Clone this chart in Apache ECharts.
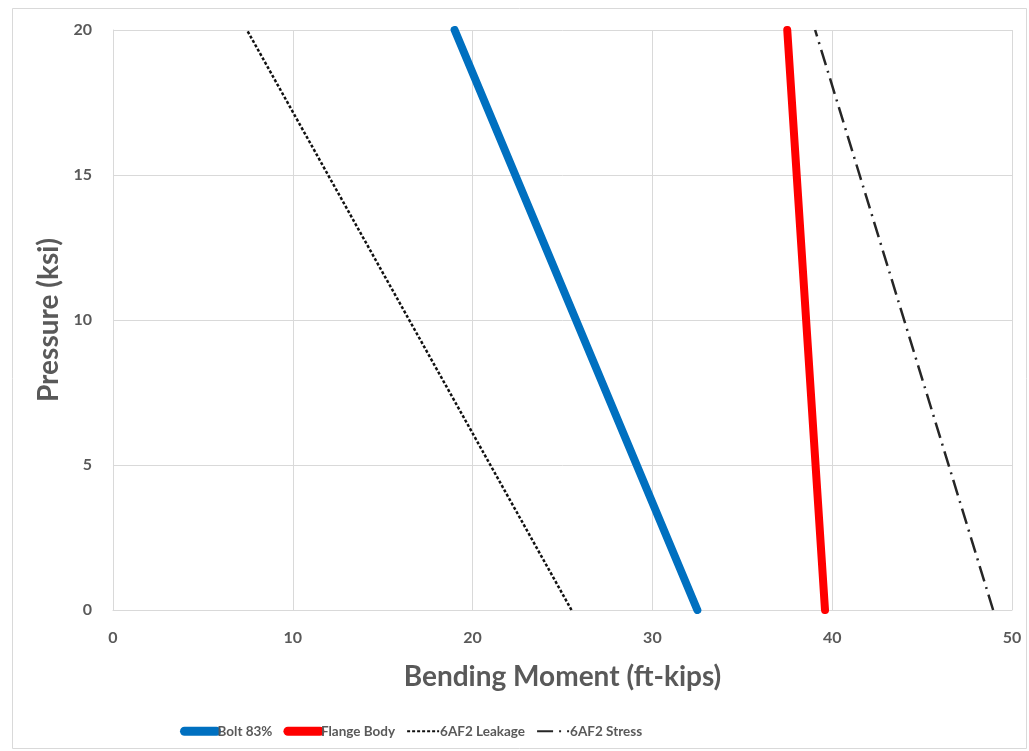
<!DOCTYPE html>
<html>
<head>
<meta charset="utf-8">
<script src="https://cdn.jsdelivr.net/npm/echarts@6/dist/echarts.min.js"></script>
<style>
  html, body { margin: 0; padding: 0; background: #ffffff; }
  #chart { width: 1029px; height: 751px; }
</style>
</head>
<body>
<div id="chart"></div>
<script>
// Pressure levels (ksi) at which each limit line is evaluated
const pressures = [0, 20];

// Bending moment limits (ft-kips) at each pressure level
const bolt83 = [32.5, 19.0];
const flangeBody = [39.6, 37.5];
const leakage6AF2 = [25.5, 7.45];
const stress6AF2 = [48.95, 39.05];

const seriesNames = ['Bolt 83%', 'Flange Body', '6AF2 Leakage', '6AF2 Stress'];

const xTicks = { min: 0, max: 50, step: 10 };
const yTicks = { min: 0, max: 20, step: 5 };

const pairs = (xs) => xs.map((x, i) => [x, pressures[i]]);

const FONT = 'Lato, "Open Sans", sans-serif';
const TEXT = '#595959';
const GRID = '#d9d9d9';

const chart = echarts.init(document.getElementById('chart'), null, { renderer: 'canvas' });

chart.setOption({
  backgroundColor: '#ffffff',
  animation: false,
  textStyle: { fontFamily: FONT },
  graphic: [{
    type: 'rect',
    shape: { x: 12.5, y: 8.5, width: 1014, height: 740 },
    style: { fill: 'none', stroke: GRID, lineWidth: 1 },
    silent: true,
    z: -1
  }],
  grid: { left: 113, top: 30, right: 17, bottom: 141 },
  legend: {
    left: 175,
    top: 719,
    itemWidth: 32,
    itemHeight: 18,
    itemGap: 11,
    // line-only legend keys: hide the marker dot
    itemStyle: { color: 'rgba(0,0,0,0)', borderWidth: 0, opacity: 0 },
    textStyle: { color: TEXT, fontSize: 13.5, fontWeight: 'bold', fontFamily: FONT, padding: [0, 0, 0, -4] },
    data: [
      { name: seriesNames[0], lineStyle: { width: 9, cap: 'round' } },
      { name: seriesNames[1], lineStyle: { width: 9, cap: 'round' } },
      { name: seriesNames[2], lineStyle: { width: 2 } },
      { name: seriesNames[3], lineStyle: { width: 2 } }
    ]
  },
  xAxis: {
    type: 'value',
    min: xTicks.min,
    max: xTicks.max,
    interval: xTicks.step,
    name: 'Bending Moment (ft-kips)',
    nameLocation: 'middle',
    nameGap: 53,
    nameTextStyle: { color: TEXT, fontSize: 28, fontWeight: 'bold', fontFamily: FONT },
    axisLine: { show: true, lineStyle: { color: GRID, width: 1 } },
    axisTick: { show: false },
    axisLabel: { color: TEXT, fontSize: 16, fontWeight: 'bold', margin: 20, fontFamily: FONT },
    splitLine: { show: true, lineStyle: { color: GRID, width: 1 } }
  },
  yAxis: {
    type: 'value',
    min: yTicks.min,
    max: yTicks.max,
    interval: yTicks.step,
    name: 'Pressure (ksi)',
    nameLocation: 'middle',
    nameGap: 49,
    nameTextStyle: { color: TEXT, fontSize: 28, fontWeight: 'bold', fontFamily: FONT },
    axisLine: { show: true, lineStyle: { color: GRID, width: 1 } },
    axisTick: { show: false },
    axisLabel: { color: TEXT, fontSize: 16, fontWeight: 'bold', margin: 21, fontFamily: FONT },
    splitLine: { show: true, lineStyle: { color: GRID, width: 1 } }
  },
  series: [
    {
      name: seriesNames[0],
      type: 'line',
      data: pairs(bolt83),
      symbol: 'none',
      z: 4,
      lineStyle: { color: '#0070c0', width: 8, cap: 'round' },
      itemStyle: { color: '#0070c0' }
    },
    {
      name: seriesNames[1],
      type: 'line',
      data: pairs(flangeBody),
      symbol: 'none',
      z: 4,
      lineStyle: { color: '#ff0000', width: 8, cap: 'round' },
      itemStyle: { color: '#ff0000' }
    },
    {
      name: seriesNames[2],
      type: 'line',
      data: pairs(leakage6AF2),
      symbol: 'none',
      z: 3,
      lineStyle: { color: '#111111', width: 2.5, type: [3, 2] },
      itemStyle: { color: '#111111' }
    },
    {
      name: seriesNames[3],
      type: 'line',
      data: pairs(stress6AF2),
      symbol: 'none',
      z: 3,
      lineStyle: { color: '#262626', width: 2.5, type: [16, 6, 2, 6] },
      itemStyle: { color: '#262626' }
    }
  ]
});
</script>
</body>
</html>
